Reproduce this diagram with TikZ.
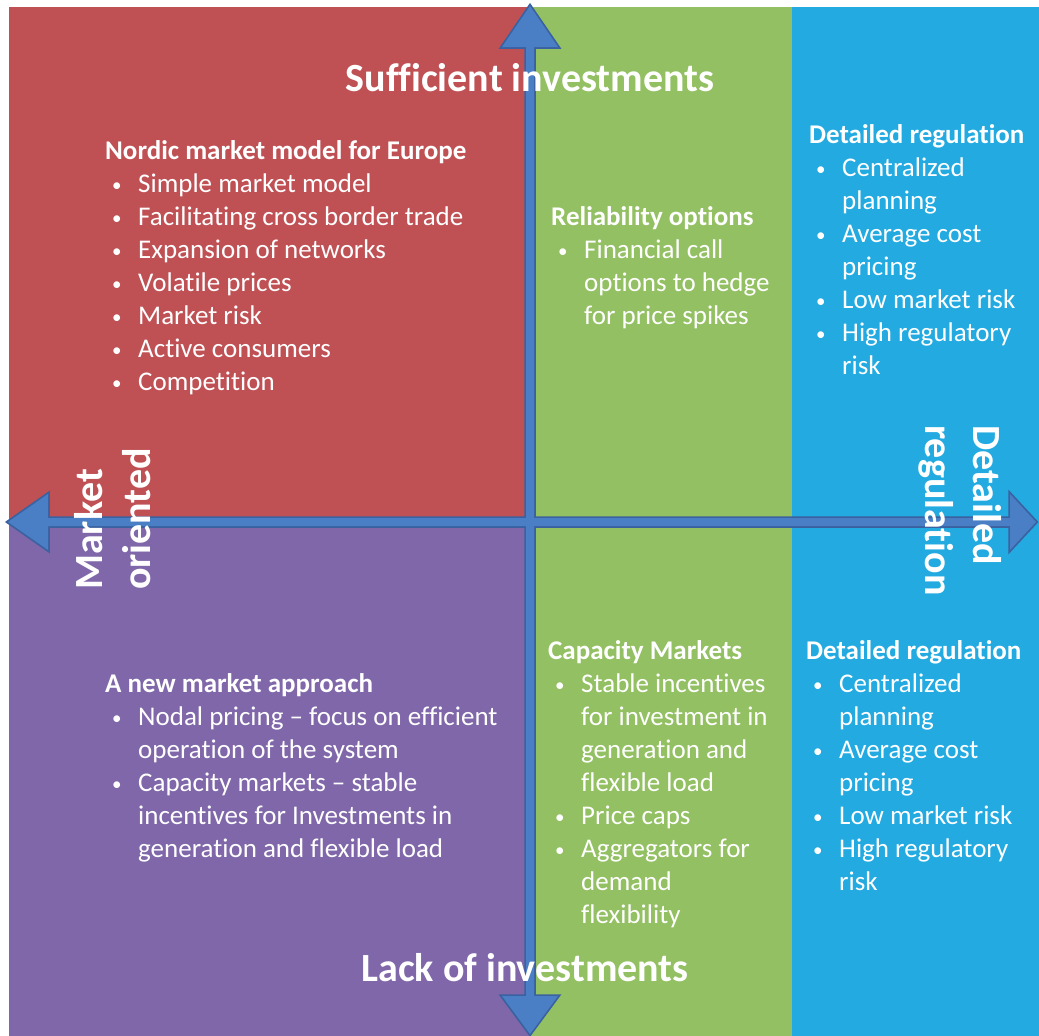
\documentclass[tikz,border=0pt]{standalone}
\usepackage{fontspec}
\setmainfont{Carlito}[Ligatures={NoCommon,NoContextual},RawFeature={-calt}]
\definecolor{qred}{HTML}{BF5155}
\definecolor{qpurple}{HTML}{7F67A9}
\definecolor{qgreen}{HTML}{93C062}
\definecolor{qblue}{HTML}{22AAE1}
\definecolor{axisfill}{HTML}{4A7FC6}
\definecolor{axisline}{HTML}{3A61A0}
\newcommand{\bodysize}{\fontsize{27}{33}\selectfont}
\newcommand{\bigsize}{\fontsize{40}{48}\selectfont\bfseries}
\newcommand{\bl}{\hspace*{7pt}\makebox[26pt][l]{\raisebox{1pt}{\fontsize{19}{19}\selectfont\textbullet}}}
\newcommand{\cl}{\hspace*{33pt}}
\tikzset{
  block/.style={anchor=north west, inner sep=0pt, align=left, text=white, font=\bodysize},
  axislabel/.style={inner sep=0pt, text=white, font=\bigsize},
  sidelabel/.style={inner sep=0pt, align=left, text=white, font=\bigsize, anchor=west},
  arrowout/.style={draw=axisline, line width=3.5pt, line join=miter},
  arrowin/.style={fill=axisfill}
}
\begin{document}
\begin{tikzpicture}[x=1pt,y=-1pt]
\useasboundingbox (0,0) rectangle (1039,1036);
% quadrant backgrounds
\fill[qred] (9,7) rectangle (529,521);
\fill[qpurple] (9,521) rectangle (529,1036);
\fill[qgreen] (529,7) rectangle (792,1036);
\fill[qblue] (792,7) rectangle (1039,1036);
% axes: outlines first, then fills so the crossing stays clean
\def\vaxis{(530,6) -- (558,47) -- (534,47) -- (534,996) -- (558,996) -- (530,1034) -- (502,996) -- (526,996) -- (526,47) -- (502,47) -- cycle}
\def\haxis{(8,522) -- (48,494) -- (48,518) -- (1010,518) -- (1010,494) -- (1036,522) -- (1010,550) -- (1010,526) -- (48,526) -- (48,550) -- cycle}
\draw[arrowout] \vaxis;
\draw[arrowout] \haxis;
\fill[arrowin] \vaxis;
\fill[arrowin] \haxis;
% axis labels
\node[axislabel] (top) at (530,78) {Sufficient investments};
\node[axislabel] (bottom) at (525,968) {Lack of investments};
\node[sidelabel, rotate=90] (left) at (113,590) {Market\\oriented};
\node[sidelabel, rotate=-90] (right) at (960,425) {Detailed\\regulation};
% quadrant contents
\node[block] (nordic) at (105,140) {\textbf{Nordic market model for Europe}\\
\bl Simple market model\\
\bl Facilitating cross border trade\\
\bl Expansion of networks\\
\bl Volatile prices\\
\bl Market risk\\
\bl Active consumers\\
\bl Competition};
\node[block] (reliab) at (551,206) {\textbf{Reliability options}\\
\bl Financial call\\
\cl options to hedge\\
\cl for price spikes};
\node[block] (regtop) at (809,124) {\textbf{Detailed regulation}\\
\bl Centralized\\
\cl planning\\
\bl Average cost\\
\cl pricing\\
\bl Low market risk\\
\bl High regulatory\\
\cl risk};
\node[block] (newmkt) at (105,673) {\textbf{A new market approach}\\
\bl Nodal pricing -- focus on efficient\\
\cl operation of the system\\
\bl Capacity markets -- stable\\
\cl incentives for Investments in\\
\cl generation and flexible load};
\node[block] (capmkt) at (548,640) {\textbf{Capacity Markets}\\
\bl Stable incentives\\
\cl for investment in\\
\cl generation and\\
\cl flexible load\\
\bl Price caps\\
\bl Aggregators for\\
\cl demand\\
\cl flexibility};
\node[block] (regbot) at (806,640) {\textbf{Detailed regulation}\\
\bl Centralized\\
\cl planning\\
\bl Average cost\\
\cl pricing\\
\bl Low market risk\\
\bl High regulatory\\
\cl risk};
\end{tikzpicture}
\end{document}
